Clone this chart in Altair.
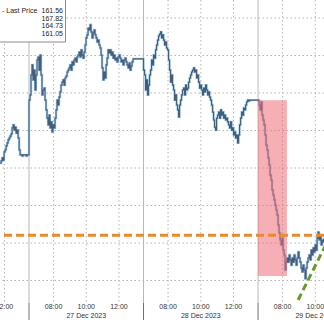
import altair as alt
import pandas as pd

# ---------------- data ----------------
days = ["26 Dec 2023", "27 Dec 2023", "28 Dec 2023", "29 Dec 2023"]
first_bar = ["11:44", "06:30", "06:30", "06:30"]   # time of first visible bar per day
bar_minutes = 3.67                                 # bar interval
session_open_h = 6.5                               # sessions run 06:30-13:30
session_len_h = 7.0

prices_26 = [164.13, 164.19, 164.27, 164.21, 164.43, 164.48, 164.59, 164.67, 164.75, 164.80,
             164.85, 164.91, 165.07, 165.15, 165.01, 165.09, 164.93, 165.01, 164.80, 164.48,
             164.35, 164.35, 164.32, 164.35, 164.35, 164.35, 164.32, 164.35, 164.35]
prices_27 = [165.81, 165.95, 166.48, 166.75, 166.35, 166.61, 166.08, 166.48, 166.88, 166.96,
             166.61, 167.01, 166.48, 165.95, 166.08, 166.13, 165.81, 165.55, 165.33, 165.15,
             165.41, 165.07, 165.23, 164.96, 165.15, 165.07, 165.33, 165.55, 165.81, 165.68,
             165.89, 166.03, 166.21, 166.29, 166.35, 166.21, 166.40, 166.45, 166.56, 166.61,
             166.67, 166.75, 166.61, 166.83, 166.75, 166.88, 166.93, 166.83, 166.96, 167.01,
             167.09, 166.96, 167.15, 167.01, 166.93, 167.09, 167.28, 167.47, 167.55, 167.73,
             167.68, 167.82, 167.63, 167.47, 167.60, 167.68, 167.55, 167.47, 167.36, 167.41,
             167.28, 167.20, 167.01, 166.67, 166.35, 166.56, 166.40, 166.75, 166.93, 167.15,
             167.07, 167.15, 167.01, 167.09, 166.93, 167.01, 166.88, 166.93, 166.83, 166.96,
             167.01, 166.93, 166.83, 166.88, 166.75, 166.88, 166.93, 166.83, 166.75, 166.67,
             166.80, 166.61, 166.72, 166.83, 166.91, 166.91, 166.91, 166.91, 166.91, 166.91,
             166.91, 166.91, 166.91, 166.91]
prices_28 = [166.61, 166.48, 166.08, 166.35, 165.95, 166.21, 166.48, 166.61, 166.88, 166.75,
             167.01, 166.93, 167.15, 167.28, 167.41, 167.52, 167.57, 167.63, 167.47, 167.55,
             167.41, 167.28, 167.36, 167.20, 167.15, 166.88, 166.61, 166.29, 166.48, 166.21,
             166.08, 165.81, 165.95, 165.68, 165.55, 165.36, 165.68, 165.81, 165.95, 166.08,
             166.13, 165.95, 166.21, 166.08, 166.13, 166.29, 166.40, 166.48, 166.56, 166.61,
             166.67, 166.56, 166.61, 166.40, 166.48, 166.29, 166.13, 166.21, 166.08, 165.95,
             166.13, 166.03, 166.21, 166.08, 165.95, 166.03, 165.89, 165.81, 165.68, 165.49,
             165.28, 165.09, 165.01, 165.33, 165.41, 165.49, 165.33, 165.55, 165.41, 165.49,
             165.33, 165.41, 165.28, 165.33, 165.23, 165.15, 165.07, 165.23, 165.01, 165.07,
             164.88, 164.96, 164.80, 164.88, 164.67, 164.88, 165.15, 165.33, 165.49, 165.41,
             165.60, 165.55, 165.68, 165.76, 165.81, 165.79, 165.81, 165.81, 165.81, 165.81,
             165.81, 165.81, 165.81, 165.81, 165.81]
prices_29 = [165.81, 165.68, 165.55, 165.76, 165.41, 165.28, 165.15, 164.88, 164.61, 164.48,
             164.27, 164.08, 163.81, 163.68, 163.41, 163.28, 163.15, 163.01, 162.88, 162.75,
             162.48, 162.27, 162.08, 161.95, 162.13, 161.81, 161.68, 161.28, 161.49, 161.60,
             161.49, 161.68, 161.55, 161.41, 161.60, 161.49, 161.68, 161.55, 161.41, 161.60,
             161.76, 161.60, 161.49, 161.33, 161.23, 161.41, 161.28, 161.05, 161.33, 161.49,
             161.60, 161.68, 161.55, 161.81, 161.68, 161.87, 161.76, 161.95, 161.81, 162.13,
             162.29, 162.08, 162.21, 161.95, 162.08, 162.03, 162.13]
all_prices = [prices_26, prices_27, prices_28, prices_29]

label_day = [0, 1, 1, 1, 2, 2, 2, 3, 3]          # even-hour tick labels
label_hour = [12, 8, 10, 12, 8, 10, 12, 8, 10]
minor_hours = [7, 8, 9, 10, 11, 12, 13]
date_labels = ["27 Dec 2023", "28 Dec 2023", "29 Dec 2023"]
date_day = [1, 2, 3]
price_grid = [161, 162, 163, 164, 165, 166, 167, 168]

legend_names = ["- Last Price", "", "", ""]
legend_values = ["161.56", "167.82", "164.73", "161.05"]

orange_level = 162.21
box_day, box_start, box_end, box_top, box_bottom = 3, "06:30", "08:16", 165.81, 161.12
green_day = 3
green_times = ["08:57", "10:43"]
green_prices = [160.48, 162.02]

x_domain = [5.227, 25.032]
y_domain = [160.40, 168.48]


def hm(s):
    h, m = s.split(":")
    return int(h) + int(m) / 60.0


def trade_x(day_idx, hours):
    return day_idx * session_len_h + (hours - session_open_h)


# ---------------- tables ----------------
rows = []
for d, (start, plist) in enumerate(zip(first_bar, all_prices)):
    t0 = trade_x(d, hm(start))
    for i, p in enumerate(plist):
        rows.append({"t": t0 + i * bar_minutes / 60.0, "price": p})
price_df = pd.DataFrame(rows)

minor_df = pd.DataFrame({"t": [trade_x(d, h) for d in range(4) for h in minor_hours]})
minor_df = minor_df[(minor_df.t >= x_domain[0]) & (minor_df.t <= x_domain[1])]
lab_df = pd.DataFrame({"t": [trade_x(d, h) for d, h in zip(label_day, label_hour)],
                       "lab": [f"{h:02d}:00" for h in label_hour]})
date_df = pd.DataFrame({"t": [d * session_len_h + session_len_h / 2 for d in date_day],
                        "lab": date_labels})
div_df = pd.DataFrame({"t": [d * session_len_h for d in date_day]})
grid_df = pd.DataFrame({"p": price_grid})
box_df = pd.DataFrame({"t": [trade_x(box_day, hm(box_start))], "t2": [trade_x(box_day, hm(box_end))],
                       "p": [box_top], "p2": [box_bottom]})
orange_df = pd.DataFrame({"p": [orange_level]})
green_df = pd.DataFrame({"t": [trade_x(green_day, hm(s)) for s in green_times], "p": green_prices})
leg_df = pd.DataFrame({"name": legend_names, "val": legend_values,
                       "row": list(range(len(legend_values)))})
one = pd.DataFrame({"a": [0]})

xs = alt.Scale(domain=x_domain, nice=False, zero=False)
ys = alt.Scale(domain=y_domain, nice=False, zero=False)
rs = alt.Scale(domain=[0, 3], range=[11.3, 33.8], nice=False, zero=False)
FONT = "Liberation Sans"

hgrid = alt.Chart(grid_df).mark_rule(color="#b4b4b4", strokeDash=[1.5, 2.5], strokeWidth=1).encode(
    y=alt.Y("p:Q", scale=ys, axis=None))
vgrid = alt.Chart(lab_df).mark_rule(color="#b4b4b4", strokeDash=[1.5, 2.5], strokeWidth=1).encode(
    x=alt.X("t:Q", scale=xs, axis=None))
divider = alt.Chart(div_df).mark_rule(color="#b8b8b8", strokeWidth=1).encode(
    x=alt.X("t:Q", scale=xs, axis=None))
divider_low = alt.Chart(div_df).mark_rule(color="#707070", strokeWidth=1).encode(
    x=alt.X("t:Q", scale=xs, axis=None), y=alt.value(303), y2=alt.value(320))

halo = alt.Chart(price_df).mark_line(color="#a9cfe8", strokeWidth=2.4, interpolate="step-after").encode(
    x=alt.X("t:Q", scale=xs,
            axis=alt.Axis(values=list(minor_df.t), labels=False, tickSize=3, tickColor="#555555",
                          domainColor="#444444", domainWidth=1, grid=False, title=None)),
    y=alt.Y("price:Q", scale=ys, axis=None))
line = alt.Chart(price_df).mark_line(color="#435d7a", strokeWidth=1.1, interpolate="step-after").encode(
    x=alt.X("t:Q", scale=xs, axis=None), y=alt.Y("price:Q", scale=ys, axis=None))

box = alt.Chart(box_df).mark_rect(color="#ee6e78", opacity=0.55).encode(
    x=alt.X("t:Q", scale=xs, axis=None), x2="t2:Q",
    y=alt.Y("p:Q", scale=ys, axis=None), y2="p2:Q")
orange = alt.Chart(orange_df).mark_rule(color="#e98a2e", strokeWidth=3, strokeDash=[8, 4]).encode(
    y=alt.Y("p:Q", scale=ys, axis=None))
green = alt.Chart(green_df).mark_line(color="#6a9a2c", strokeWidth=3, strokeDash=[7, 4], clip=True).encode(
    x=alt.X("t:Q", scale=xs, axis=None), y=alt.Y("p:Q", scale=ys, axis=None))

hour_txt = alt.Chart(lab_df).mark_text(font=FONT, fontSize=7, color="#333333", baseline="middle").encode(
    x=alt.X("t:Q", scale=xs, axis=None), y=alt.value(307), text="lab:N")
date_txt = alt.Chart(date_df).mark_text(font=FONT, fontSize=7, color="#333333", baseline="middle").encode(
    x=alt.X("t:Q", scale=xs, axis=None), y=alt.value(315.5), text="lab:N")

leg_box = alt.Chart(one).mark_rect(fill="white", stroke="#8c8c8c", strokeWidth=1).encode(
    x=alt.value(-2), x2=alt.value(65.5), y=alt.value(-2), y2=alt.value(42))
leg_name = alt.Chart(leg_df).mark_text(font=FONT, fontSize=7, color="#222222", align="left",
                                       baseline="middle").encode(
    x=alt.value(2), y=alt.Y("row:Q", scale=rs, axis=None), text="name:N")
leg_val = alt.Chart(leg_df).mark_text(font=FONT, fontSize=7, color="#222222", align="right",
                                      baseline="middle").encode(
    x=alt.value(63), y=alt.Y("row:Q", scale=rs, axis=None), text="val:N")

chart = alt.layer(
    hgrid, vgrid, divider, divider_low, halo, line, box, orange, green,
    hour_txt, date_txt, leg_box, leg_name, leg_val
).resolve_scale(y="independent").properties(
    width=324, height=303, padding={"left": 0, "top": 0, "right": 0, "bottom": 17},
    autosize="none", background="white"
).configure_view(stroke=None)

chart.save("out.html", embed_options={"renderer": "svg", "actions": False})
